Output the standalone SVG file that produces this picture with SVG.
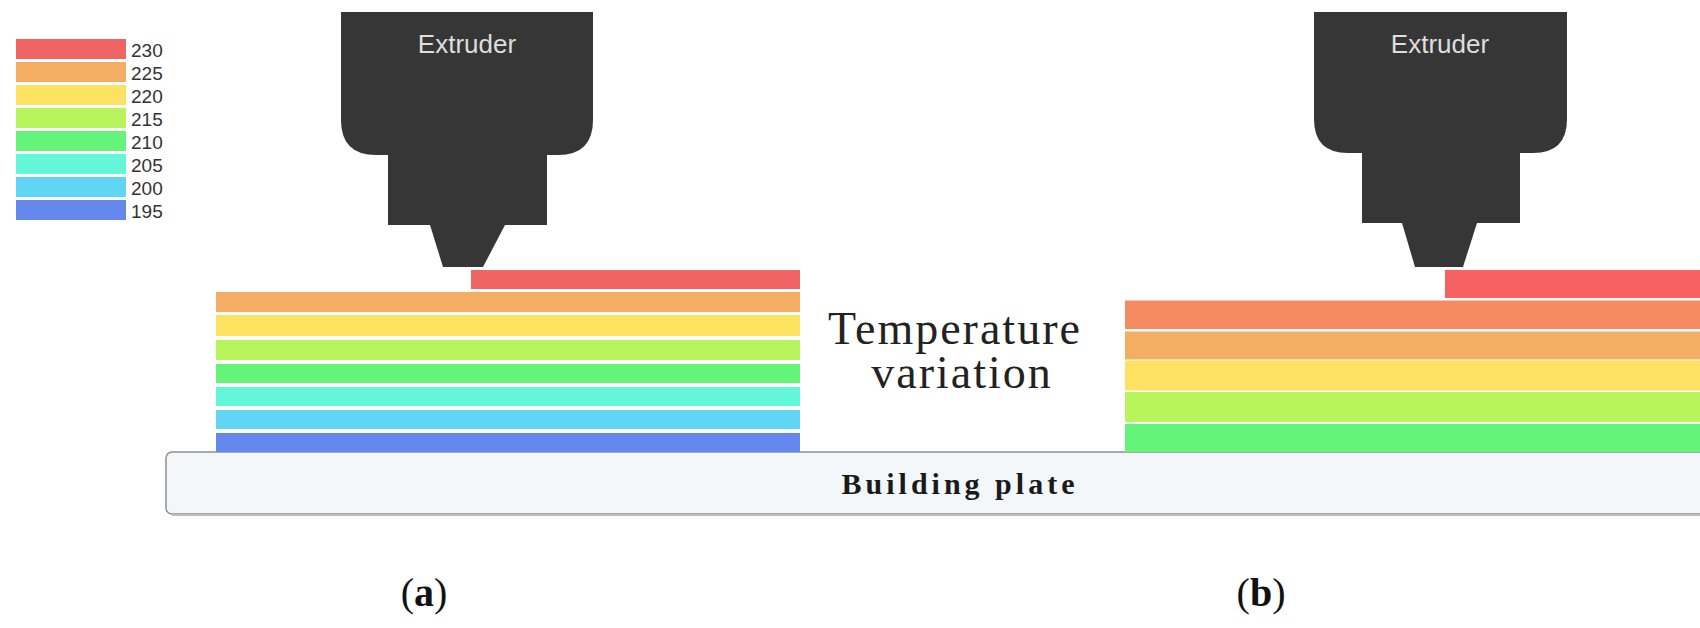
<svg xmlns="http://www.w3.org/2000/svg" width="1700" height="628" viewBox="0 0 1700 628">
<style>
.c230{fill:#f06464}.c225{fill:#f4ae64}.c220{fill:#fce260}.c215{fill:#b8f45c}.c210{fill:#64f47a}.c205{fill:#64f6d8}.c200{fill:#60d6f4}.c195{fill:#6588ef}.c228{fill:#f68b62}
.lg{font-family:"Liberation Sans",Arial,sans-serif;font-size:19px;fill:#333}
.ext{fill:#363636}
.extt{font-family:"Liberation Sans",Arial,sans-serif;font-size:26px;fill:#dedede;text-anchor:middle}
.tv{font-family:"Liberation Serif","Times New Roman",serif;font-size:46px;fill:#222;text-anchor:middle;letter-spacing:2px}
.cap{font-family:"Liberation Serif","Times New Roman",serif;font-size:40px;fill:#111;text-anchor:middle}
</style>
<rect width="1700" height="628" fill="#ffffff"/>
<g id="legend">
<rect class="c230" x="16" y="39" width="110" height="20"/>
<rect class="c225" x="16" y="62" width="110" height="20"/>
<rect class="c220" x="16" y="85" width="110" height="20"/>
<rect class="c215" x="16" y="108" width="110" height="20"/>
<rect class="c210" x="16" y="131" width="110" height="20"/>
<rect class="c205" x="16" y="154" width="110" height="20"/>
<rect class="c200" x="16" y="177" width="110" height="20"/>
<rect class="c195" x="16" y="200" width="110" height="20"/>
<text class="lg" x="131" y="57">230</text>
<text class="lg" x="131" y="80">225</text>
<text class="lg" x="131" y="103">220</text>
<text class="lg" x="131" y="126">215</text>
<text class="lg" x="131" y="149">210</text>
<text class="lg" x="131" y="172">205</text>
<text class="lg" x="131" y="195">200</text>
<text class="lg" x="131" y="218">195</text>
</g>
<g id="plate">
<rect x="166" y="452" width="1560" height="62" rx="6" fill="#f3f7f9" stroke="#8f8f8f" stroke-width="1.5"/>
<line x1="172" y1="515" x2="1700" y2="515" stroke="#bdbdbd" stroke-width="2"/>
<text x="960" y="494" font-family="'Liberation Serif','Times New Roman',serif" font-weight="bold" font-size="30" letter-spacing="4" text-anchor="middle" fill="#1a1a1a">Building plate</text>
</g>
<g id="stack-a">
<rect class="c230" x="471" y="270" width="329" height="19"/>
<rect class="c225" x="216" y="292" width="584" height="20"/>
<rect class="c220" x="216" y="315" width="584" height="21"/>
<rect class="c215" x="216" y="340" width="584" height="20"/>
<rect class="c210" x="216" y="364" width="584" height="19"/>
<rect class="c205" x="216" y="387" width="584" height="19"/>
<rect class="c200" x="216" y="410" width="584" height="19"/>
<rect class="c195" x="216" y="433" width="584" height="19"/>
</g>
<g id="stack-b">
<rect x="1445" y="270" width="255" height="28" fill="#f66262"/>
<rect class="c228" x="1125" y="300.5" width="575" height="28.5"/>
<rect class="c225" x="1125" y="331.5" width="575" height="28"/>
<rect class="c220" x="1125" y="360.5" width="575" height="30"/>
<rect class="c215" x="1125" y="392" width="575" height="30"/>
<rect class="c210" x="1125" y="424" width="575" height="28"/>
</g>
<g id="extruder-a">
<path class="ext" d="M341 12 H593 V120 Q593 155 558 155 H376 Q341 155 341 120 Z"/>
<rect class="ext" x="388" y="154" width="159" height="71"/>
<path class="ext" d="M430 225 H505 L483 267 H443 Z"/>
<text class="extt" x="467" y="53">Extruder</text>
</g>
<g id="extruder-b">
<path class="ext" d="M1314 12 H1567 V119 Q1567 153 1533 153 H1348 Q1314 153 1314 119 Z"/>
<rect class="ext" x="1362" y="152" width="158" height="71"/>
<path class="ext" d="M1402 223 H1477 L1463 267 H1415 Z"/>
<text class="extt" x="1440" y="53">Extruder</text>
</g>
<g id="label-temp">
<text class="tv" x="955" y="344">Temperature</text>
<text class="tv" x="962" y="388">variation</text>
</g>
<g id="captions">
<text class="cap" x="424" y="606">(<tspan font-weight="bold">a</tspan>)</text>
<text class="cap" x="1261" y="606">(<tspan font-weight="bold">b</tspan>)</text>
</g>
<g id="connectors"></g>
</svg>
